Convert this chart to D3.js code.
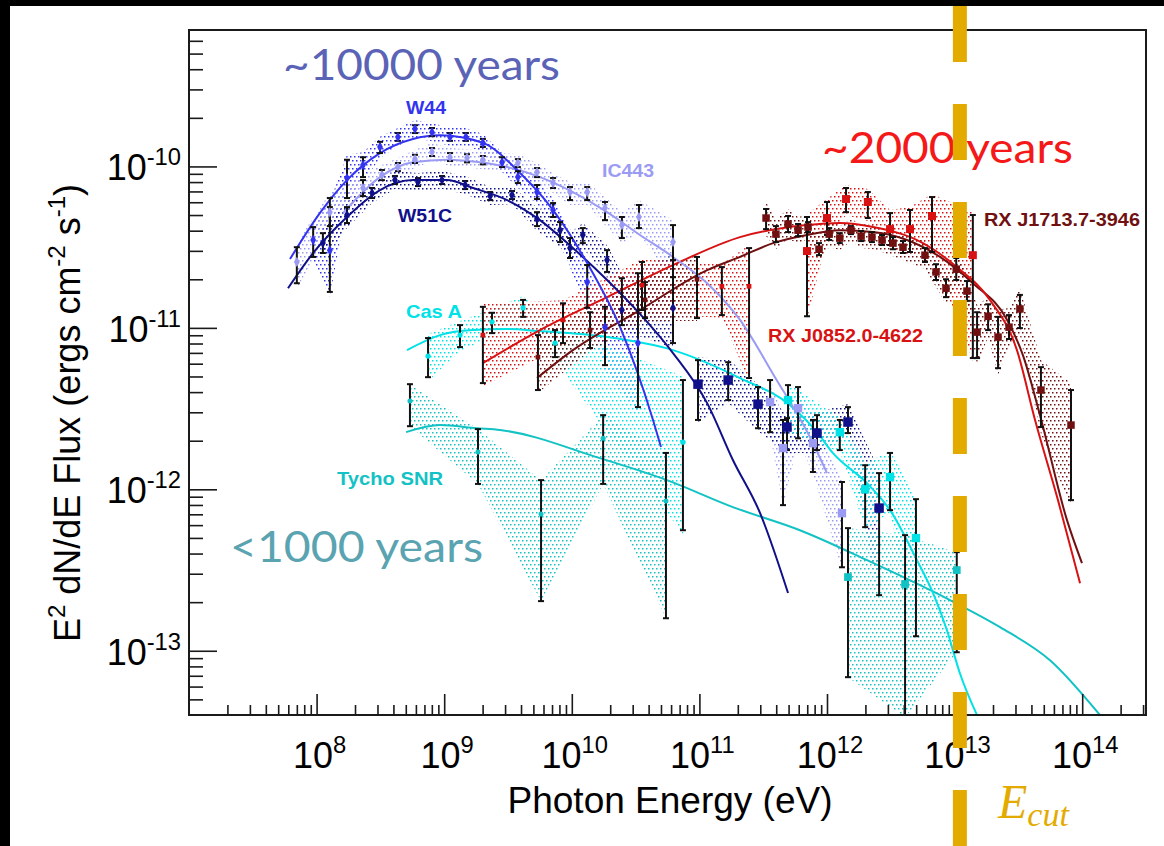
<!DOCTYPE html>
<html>
<head>
<meta charset="utf-8">
<script src="https://cdn.jsdelivr.net/npm/d3@7/dist/d3.min.js"></script>
<style>
  body { margin: 0; background: #fff; }
  svg { display: block; }
</style>
</head>
<body>
<svg id="chart" width="1164" height="846"></svg>
<script>
// ---------------------------------------------------------------
// Gamma-ray SEDs of supernova remnants: E^2 dN/dE vs photon energy
// Data rows are [energy (eV), flux, lower bound, upper bound]
// Curve rows are [energy (eV), flux] sampled along each model fit
// ---------------------------------------------------------------

const w44Fermi = [
  [9.4e7, 3.50e-11, 2.75e-11, 4.21e-11], [1.27e8, 3.03e-11, 1.67e-11, 5.60e-11],
  [1.73e8, 8.47e-11, 6.37e-11, 1.10e-10], [2.31e8, 1.02e-10, 8.59e-11, 1.14e-10],
  [3.14e8, 1.32e-10, 1.21e-10, 1.42e-10], [4.34e8, 1.52e-10, 1.44e-10, 1.61e-10],
  [5.90e8, 1.71e-10, 1.61e-10, 1.80e-10], [8.02e8, 1.63e-10, 1.54e-10, 1.73e-10],
  [1.11e9, 1.52e-10, 1.44e-10, 1.61e-10], [1.48e9, 1.52e-10, 1.44e-10, 1.61e-10],
  [2.01e9, 1.40e-10, 1.32e-10, 1.48e-10], [2.84e9, 1.06e-10, 9.91e-11, 1.14e-10],
  [3.78e9, 8.59e-11, 7.89e-11, 9.35e-11], [5.34e9, 6.94e-11, 6.28e-11, 7.67e-11],
  [7.13e9, 5.37e-11, 4.86e-11, 5.93e-11], [1.32e10, 1.92e-11, 1.33e-11, 2.45e-11],
  [1.82e10, 1.01e-11, 5.88e-12, 1.35e-11], [3.30e10, 8.05e-12, 3.23e-12, 2.18e-11]
];
const w44Curve = [
  [6.19e7, 2.67e-11], [1.06e8, 5.14e-11], [1.73e8, 8.23e-11], [3.14e8, 1.21e-10],
  [5.69e8, 1.48e-10], [9.27e8, 1.56e-10], [2.01e9, 1.40e-10], [3.93e9, 9.10e-11],
  [7.13e9, 5.37e-11], [1.32e10, 2.52e-11], [2.39e10, 1.01e-11], [4.33e10, 2.69e-12],
  [5.00e10, 1.83e-12]
];

const ic443Fermi = [
  [7.0e7, 2.56e-11, 1.89e-11, 3.16e-11], [1.27e8, 5.21e-11, 4.27e-11, 6.37e-11],
  [2.31e8, 7.35e-11, 6.55e-11, 8.23e-11], [3.25e8, 8.85e-11, 8.23e-11, 9.50e-11],
  [4.34e8, 9.91e-11, 9.35e-11, 1.05e-10], [5.90e8, 1.11e-10, 1.05e-10, 1.18e-10],
  [8.02e8, 1.23e-10, 1.16e-10, 1.30e-10], [1.11e9, 1.14e-10, 1.08e-10, 1.21e-10],
  [1.51e9, 1.13e-10, 1.06e-10, 1.19e-10], [2.01e9, 1.10e-10, 1.03e-10, 1.16e-10],
  [3.78e9, 1.05e-10, 9.91e-11, 1.11e-10], [5.34e9, 9.23e-11, 8.59e-11, 9.77e-11],
  [7.13e9, 7.89e-11, 7.35e-11, 8.47e-11], [9.68e9, 6.94e-11, 6.19e-11, 7.45e-11],
  [1.32e10, 6.94e-11, 6.19e-11, 7.45e-11], [1.82e10, 5.52e-11, 4.65e-11, 6.02e-11],
  [2.47e10, 4.33e-11, 3.60e-11, 4.86e-11], [3.36e10, 4.86e-11, 4.15e-11, 5.77e-11],
  [6.21e10, 3.40e-11, 2.06e-11, 4.33e-11]
];
const ic443TeV = [
  [3.58e11, 3.47e-12, 2.26e-12, 4.75e-12], [4.52e11, 1.80e-12, 7.98e-13, 2.69e-12],
  [5.93e11, 3.18e-12, 2.07e-12, 4.30e-12], [7.76e11, 1.93e-12, 1.28e-12, 2.69e-12],
  [1.31e12, 7.12e-13, 3.29e-13, 1.11e-12]
];
const ic443Curve = [
  [1.61e8, 5.14e-11], [3.14e8, 8.59e-11], [5.69e8, 1.06e-10], [1.05e9, 1.10e-10],
  [1.91e9, 1.06e-10], [3.11e9, 9.91e-11], [5.63e9, 8.59e-11], [1.02e10, 6.94e-11],
  [1.89e10, 5.21e-11], [3.42e10, 3.76e-11], [6.21e10, 2.75e-11], [1.15e11, 1.89e-11],
  [2.08e11, 1.12e-11], [3.91e11, 4.95e-12], [7.36e11, 2.10e-12], [1.00e12, 1.26e-12]
];

const w51cFermi = [
  [1.12e8, 3.35e-11, 2.91e-11, 3.86e-11], [1.73e8, 5.00e-11, 4.46e-11, 5.60e-11],
  [2.72e8, 6.84e-11, 6.37e-11, 7.35e-11], [4.11e8, 8.23e-11, 7.78e-11, 8.72e-11],
  [6.23e8, 8.00e-11, 7.56e-11, 8.47e-11], [9.61e8, 8.23e-11, 7.78e-11, 8.72e-11],
  [1.46e9, 7.67e-11, 7.24e-11, 8.12e-11], [2.29e9, 6.55e-11, 6.19e-11, 6.94e-11],
  [3.40e9, 6.65e-11, 6.28e-11, 7.04e-11], [5.34e9, 4.72e-11, 4.27e-11, 5.21e-11],
  [8.09e9, 4.03e-11, 3.40e-11, 4.52e-11], [9.68e9, 3.12e-11, 2.71e-11, 3.60e-11],
  [1.22e10, 3.76e-11, 3.35e-11, 4.15e-11], [1.89e10, 2.63e-11, 2.22e-11, 3.03e-11],
  [2.47e10, 1.29e-11, 1.04e-11, 2.03e-11], [6.21e10, 1.33e-11, 8.05e-12, 2.63e-11]
];
const w51cTeV = [
  [9.75e10, 4.48e-12, 2.69e-12, 6.31e-12], [1.68e11, 4.75e-12, 3.57e-12, 6.13e-12],
  [2.88e11, 3.37e-12, 2.39e-12, 4.30e-12], [4.86e11, 2.43e-12, 1.75e-12, 2.76e-12],
  [8.35e11, 2.23e-12, 1.75e-12, 2.88e-12], [1.46e12, 2.61e-12, 2.23e-12, 3.23e-12],
  [2.56e12, 7.65e-13, 2.21e-13, 1.26e-12]
];
const w51cCurve = [
  [5.97e7, 1.76e-11], [9.4e7, 2.91e-11], [1.73e8, 4.86e-11], [3.14e8, 7.14e-11],
  [5.69e8, 8.23e-11], [1.05e9, 8.23e-11], [1.68e9, 7.35e-11], [3.11e9, 6.19e-11],
  [5.63e9, 4.65e-11], [1.02e10, 3.12e-11], [1.89e10, 1.98e-11], [3.42e10, 1.22e-11],
  [6.21e10, 6.98e-12], [1.15e11, 3.42e-12], [1.83e11, 1.52e-12], [2.99e11, 7.12e-13],
  [4.95e11, 2.28e-13]
];

const casAFermi = [
  [7.47e8, 6.69e-12, 4.95e-12, 8.65e-12], [1.33e9, 9.02e-12, 7.60e-12, 1.04e-11],
  [2.37e9, 1.09e-11, 9.28e-12, 1.24e-11], [4.15e9, 1.33e-11, 1.17e-11, 1.49e-11],
  [7.39e9, 8.05e-12, 6.59e-12, 9.69e-12], [7.43e10, 1.96e-12, 5.58e-13, 4.75e-12]
];
const casATeV = [
  [4.95e11, 3.57e-12, 2.33e-12, 4.42e-12], [1.26e12, 2.26e-12, 1.75e-12, 2.69e-12],
  [1.99e12, 1.00e-12, 5.83e-13, 1.41e-12], [3.12e12, 1.19e-12, 7.43e-13, 1.68e-12],
  [4.98e12, 4.99e-13, 1.23e-13, 8.69e-13]
];
const casACurve = [
  [5.11e8, 7.28e-12], [9.27e8, 9.02e-12], [1.68e9, 9.69e-12], [3.11e9, 9.83e-12],
  [5.63e9, 9.55e-12], [1.89e10, 8.77e-12], [6.21e10, 7.28e-12], [2.08e11, 4.89e-12],
  [5.13e11, 3.32e-12], [8.35e11, 2.26e-12], [1.11e12, 1.68e-12], [2.06e12, 1.09e-12],
  [3.12e12, 7.43e-13], [5.07e12, 3.64e-13], [6.77e12, 2.28e-13], [8.71e12, 1.34e-13],
  [1.10e13, 7.26e-14], [1.50e13, 3.99e-14]
];

const tychoFermi = [
  [5.39e8, 3.52e-12, 2.46e-12, 4.48e-12], [1.84e9, 1.70e-12, 1.08e-12, 2.36e-12],
  [5.74e9, 7.02e-13, 2.03e-13, 1.14e-12], [1.76e10, 2.07e-12, 1.08e-12, 2.88e-12],
  [5.47e10, 8.45e-13, 1.59e-13, 1.68e-12]
];
const tychoTeV = [
  [1.46e12, 2.86e-13, 6.86e-14, 5.75e-13], [4.09e12, 2.59e-13, 3.87e-14, 5.20e-13],
  [1.04e13, 3.16e-13, 9.79e-14, 4.08e-13]
];
const tychoCurve = [
  [5.02e8, 2.26e-12], [9.27e8, 2.50e-12], [1.81e9, 2.39e-12], [2.74e9, 2.33e-12],
  [1.66e10, 1.56e-12], [5.57e10, 1.14e-12], [1.83e11, 7.76e-13], [6.14e11, 5.58e-13],
  [2.06e12, 3.64e-13], [9.20e12, 2.06e-13], [2.27e13, 1.40e-13], [5.59e13, 8.74e-14],
  [1.38e14, 3.99e-14]
];

const j0852Fermi = [
  [2.01e9, 9.02e-12, 4.55e-12, 1.35e-11], [8.53e9, 1.12e-11, 8.05e-12, 1.42e-11],
  [3.55e10, 1.84e-11, 1.29e-11, 2.56e-11], [1.50e11, 1.81e-11, 1.20e-11, 2.38e-11],
  [2.45e11, 1.81e-11, 4.89e-12, 3.12e-11]
];
const j0852HESS = [
  [6.97e11, 2.99e-11, 1.18e-11, 4.86e-11], [1.00e12, 4.79e-11, 3.76e-11, 6.02e-11],
  [1.41e12, 6.28e-11, 5.21e-11, 7.35e-11], [2.09e12, 6.02e-11, 4.79e-11, 6.94e-11],
  [3.12e12, 4.09e-11, 3.26e-11, 5.14e-11], [4.47e12, 4.09e-11, 2.95e-11, 5.37e-11],
  [6.65e12, 4.93e-11, 2.95e-11, 6.46e-11], [1.39e13, 2.82e-11, 6.50e-12, 5.00e-11]
];
const j0852Curve = [
  [2.01e9, 6.05e-12], [5.63e9, 9.69e-12], [1.89e10, 1.55e-11], [6.21e10, 2.45e-11],
  [2.08e11, 3.65e-11], [6.97e11, 4.33e-11], [1.26e12, 4.46e-11], [2.29e12, 4.21e-11],
  [5.65e12, 3.35e-11], [1.04e13, 2.38e-11], [1.89e13, 1.49e-11], [3.08e13, 7.28e-12],
  [4.27e13, 2.69e-12], [6.46e13, 8.57e-13], [9.62e13, 2.62e-13]
];

const j1713Fermi = [
  [5.43e9, 6.59e-12, 4.12e-12, 9.02e-12], [1.39e10, 9.69e-12, 7.50e-12, 1.25e-11],
  [3.75e10, 1.49e-11, 1.15e-11, 1.92e-11], [9.58e10, 2.00e-11, 1.15e-11, 2.75e-11]
];
const j1713HESS = [
  [3.33e11, 4.79e-11, 4.09e-11, 5.45e-11], [3.98e11, 3.81e-11, 3.40e-11, 4.27e-11],
  [4.95e11, 4.40e-11, 3.92e-11, 4.93e-11], [5.93e11, 4.03e-11, 3.70e-11, 4.40e-11],
  [7.10e11, 4.21e-11, 3.92e-11, 4.52e-11], [8.66e11, 3.07e-11, 2.82e-11, 3.35e-11],
  [1.04e12, 3.81e-11, 3.50e-11, 4.15e-11], [1.26e12, 3.60e-11, 3.35e-11, 3.86e-11],
  [1.54e12, 4.03e-11, 3.81e-11, 4.27e-11], [1.85e12, 3.70e-11, 3.45e-11, 3.98e-11],
  [2.25e12, 3.65e-11, 3.40e-11, 3.92e-11], [2.70e12, 3.50e-11, 3.26e-11, 3.76e-11],
  [3.29e12, 3.35e-11, 3.07e-11, 3.65e-11], [3.94e12, 3.16e-11, 2.91e-11, 3.45e-11],
  [5.86e12, 2.82e-11, 2.56e-11, 3.12e-11], [7.15e12, 2.22e-11, 1.98e-11, 2.48e-11],
  [8.56e12, 1.76e-11, 1.55e-11, 2.00e-11], [1.03e13, 2.31e-11, 1.98e-11, 2.71e-11],
  [1.25e13, 1.69e-11, 1.47e-11, 1.95e-11], [1.50e13, 9.41e-12, 6.50e-12, 1.25e-11],
  [1.83e13, 1.18e-11, 9.69e-12, 1.40e-11], [2.19e13, 8.77e-12, 5.63e-12, 1.17e-11],
  [2.67e13, 1.01e-11, 8.53e-12, 1.20e-11], [3.25e13, 1.31e-11, 9.97e-12, 1.60e-11],
  [4.75e13, 4.12e-12, 2.43e-12, 5.71e-12], [8.17e13, 2.50e-12, 8.57e-13, 4.12e-12]
];
const j1713Curve = [
  [5.34e9, 4.89e-12], [1.02e10, 7.28e-12], [3.42e10, 1.29e-11], [1.15e11, 2.28e-11],
  [2.08e11, 2.75e-11], [3.78e11, 3.35e-11], [6.97e11, 3.76e-11], [1.26e12, 4.03e-11],
  [2.29e12, 3.92e-11], [4.24e12, 3.50e-11], [7.68e12, 2.75e-11], [1.39e13, 1.89e-11],
  [2.58e13, 1.12e-11], [3.43e13, 6.78e-12], [4.67e13, 2.88e-12], [7.60e13, 6.44e-13],
  [9.96e13, 3.49e-13]
];

// Axis ticks
const xMajorTicks = [1e8, 1e9, 1e10, 1e11, 1e12, 1e13, 1e14];
const xTickExponents = ["8", "9", "10", "11", "12", "13", "14"];
const yMajorTicks = [1e-13, 1e-12, 1e-11, 1e-10];
const yTickExponents = ["-13", "-12", "-11", "-10"];

// Source names and age annotations
const sourceNames = ["W44", "IC443", "W51C", "Cas A", "Tycho SNR", "RX J0852.0-4622", "RX J1713.7-3946"];
const ageLabels = ["~10000 years", "~2000 years", "<1000 years"];
const cutoffEnergy = [1.1e13];

// ---------------------------------------------------------------
const svg = d3.select("#chart");
const W = 1164, H = 846;
const plot = { left: 189, right: 1146, top: 30, bottom: 715 };

svg.append("rect").attr("width", W).attr("height", H).attr("fill", "#fff");
svg.append("rect").attr("x", 0).attr("y", 0).attr("width", W).attr("height", 6).attr("fill", "#000");
svg.append("rect").attr("x", 0).attr("y", 0).attr("width", 10).attr("height", H).attr("fill", "#000");

const x = d3.scaleLog().domain([1e7, Math.pow(10, 14.5)]).range([plot.left, plot.right]);
const y = d3.scaleLog().domain([4e-14, 7e-10]).range([plot.bottom, plot.top]);

const colors = {
  w44: "#3434f0", ic443: "#9b9bf4", w51c: "#10108a", casA: "#00e2e6",
  tycho: "#12c2c4", j0852: "#d81212", j1713: "#701010"
};

const defs = svg.append("defs");
defs.append("clipPath").attr("id", "plotClip")
  .append("rect").attr("x", plot.left).attr("y", plot.top)
  .attr("width", plot.right - plot.left).attr("height", plot.bottom - plot.top);

// sparse dotted fill patterns used for the uncertainty bands
Object.entries(colors).forEach(([key, c]) => {
  const p = defs.append("pattern").attr("id", "dots-" + key)
    .attr("width", 4).attr("height", 8).attr("patternUnits", "userSpaceOnUse");
  p.append("rect").attr("x", 0).attr("y", 0).attr("width", 1.5).attr("height", 1.5).attr("fill", c);
  p.append("rect").attr("x", 2).attr("y", 4).attr("width", 1.5).attr("height", 1.5).attr("fill", c);
});

const groups = [
  { data: w44Fermi,   key: "w44",   pad: 5, marker: d3.symbolDiamond, size: 30 },
  { data: ic443Fermi, key: "ic443", pad: 5, marker: d3.symbolDiamond, size: 30 },
  { data: ic443TeV,   key: "ic443", pad: 2, marker: d3.symbolSquare,  size: 70 },
  { data: w51cFermi,  key: "w51c",  pad: 5, marker: d3.symbolDiamond, size: 30 },
  { data: w51cTeV,    key: "w51c",  pad: 3, marker: d3.symbolSquare,  size: 90 },
  { data: casAFermi,  key: "casA",  pad: 4, marker: d3.symbolCircle,  size: 22 },
  { data: casATeV,    key: "casA",  pad: 2, marker: d3.symbolSquare,  size: 70 },
  { data: tychoFermi, key: "tycho", pad: 0, marker: d3.symbolCircle,  size: 20 },
  { data: tychoTeV,   key: "tycho", pad: 0, marker: d3.symbolSquare,  size: 60 },
  { data: j0852Fermi, key: "j0852", pad: 3, marker: d3.symbolSquare,  size: 22 },
  { data: j0852HESS,  key: "j0852", pad: 3, marker: d3.symbolSquare,  size: 64 },
  { data: j1713Fermi, key: "j1713", pad: 3, marker: d3.symbolSquare,  size: 22 },
  { data: j1713HESS,  key: "j1713", pad: 7, marker: d3.symbolSquare,  size: 56 }
];

const curves = [
  { data: tychoCurve, key: "tycho" }, { data: casACurve, key: "casA" },
  { data: j1713Curve, key: "j1713" }, { data: j0852Curve, key: "j0852" },
  { data: ic443Curve, key: "ic443" }, { data: w51cCurve, key: "w51c" },
  { data: w44Curve, key: "w44" }
];

const clipped = svg.append("g").attr("clip-path", "url(#plotClip)");

// uncertainty bands
const bandLayer = clipped.append("g");
groups.forEach(g => {
  const area = d3.area()
    .x(d => x(d[0]))
    .y0(d => y(d[2]) + g.pad)
    .y1(d => y(d[3]) - g.pad);
  bandLayer.append("path").datum(g.data)
    .attr("d", area)
    .attr("fill", `url(#dots-${g.key})`);
});

// model curves
const lineGen = d3.line().x(d => x(d[0])).y(d => y(d[1])).curve(d3.curveMonotoneX);
const curveLayer = clipped.append("g");
curves.forEach(c => {
  curveLayer.append("path").datum(c.data)
    .attr("d", lineGen)
    .attr("fill", "none")
    .attr("stroke", colors[c.key])
    .attr("stroke-width", 2);
});

// error bars
const barLayer = clipped.append("g").attr("stroke", "#111").attr("stroke-width", 2);
groups.forEach(g => {
  g.data.forEach(d => {
    const cx = x(d[0]), y0 = y(d[2]), y1 = y(d[3]);
    barLayer.append("line").attr("x1", cx).attr("x2", cx).attr("y1", y0).attr("y2", y1);
    barLayer.append("line").attr("x1", cx - 3).attr("x2", cx + 3).attr("y1", y0).attr("y2", y0);
    barLayer.append("line").attr("x1", cx - 3).attr("x2", cx + 3).attr("y1", y1).attr("y2", y1);
  });
});

// markers
const markLayer = clipped.append("g");
groups.forEach(g => {
  const sym = d3.symbol().type(g.marker).size(g.size);
  markLayer.selectAll(null).data(g.data).enter().append("path")
    .attr("d", sym)
    .attr("transform", d => `translate(${x(d[0])},${y(d[1])})`)
    .attr("fill", colors[g.key]);
});

// ---------------------------------------------------------------
// Axes: ticks on the left and bottom, frame around the plot
const axisFont = "'Liberation Sans', Arial, Helvetica, sans-serif";

const xMinor = [];
for (let e = 7; e <= 14; e++) for (let m = 2; m <= 9; m++) {
  const v = m * Math.pow(10, e);
  if (v < x.domain()[1]) xMinor.push(v);
}
const yMinor = [];
for (let e = -14; e <= -10; e++) for (let m = 2; m <= 9; m++) {
  const v = m * Math.pow(10, e);
  if (v > y.domain()[0] && v < y.domain()[1]) yMinor.push(v);
}

const xAxisMajor = d3.axisBottom(x).tickValues(xMajorTicks).tickSize(-21).tickFormat("");
const xAxisMinor = d3.axisBottom(x).tickValues(xMinor).tickSize(-10).tickFormat("");
const yAxisMajor = d3.axisLeft(y).tickValues(yMajorTicks).tickSize(-28).tickFormat("");
const yAxisMinor = d3.axisLeft(y).tickValues(yMinor).tickSize(-14).tickFormat("");

[[xAxisMajor, `translate(0,${plot.bottom})`], [xAxisMinor, `translate(0,${plot.bottom})`],
 [yAxisMajor, `translate(${plot.left},0)`], [yAxisMinor, `translate(${plot.left},0)`]]
  .forEach(([ax, tr]) => {
    const g = svg.append("g").attr("transform", tr).call(ax);
    g.select(".domain").remove();
    g.selectAll(".tick line").attr("stroke", "#1a1a1a").attr("stroke-width", 1.6);
  });

svg.append("rect")
  .attr("x", plot.left).attr("y", plot.top)
  .attr("width", plot.right - plot.left).attr("height", plot.bottom - plot.top)
  .attr("fill", "none").attr("stroke", "#1a1a1a").attr("stroke-width", 2);

function powerLabel(text, base, exp, size) {
  text.append("tspan").text(base);
  text.append("tspan").attr("dy", -size * 0.42).attr("font-size", size * 0.66).text(exp);
}

xMajorTicks.forEach((v, i) => {
  const t = svg.append("text")
    .attr("x", x(v) + 3).attr("y", 768)
    .attr("text-anchor", "middle")
    .attr("font-family", axisFont).attr("font-size", 36).attr("fill", "#000");
  powerLabel(t, "10", xTickExponents[i], 36);
});

yMajorTicks.forEach((v, i) => {
  const t = svg.append("text")
    .attr("x", 181).attr("y", y(v) + 14)
    .attr("text-anchor", "end")
    .attr("font-family", axisFont).attr("font-size", 36).attr("fill", "#000");
  powerLabel(t, "10", yTickExponents[i], 36);
});

svg.append("text")
  .attr("x", 670).attr("y", 813)
  .attr("text-anchor", "middle")
  .attr("font-family", axisFont).attr("font-size", 37).attr("fill", "#000")
  .text("Photon Energy (eV)");

const yTitle = svg.append("text")
  .attr("transform", "translate(80,413) rotate(-90)")
  .attr("text-anchor", "middle")
  .attr("font-family", axisFont).attr("font-size", 36).attr("fill", "#000");
yTitle.append("tspan").text("E");
yTitle.append("tspan").attr("dy", -15).attr("font-size", 24).text("2");
yTitle.append("tspan").attr("dy", 15).text(" dN/dE Flux (ergs cm");
yTitle.append("tspan").attr("dy", -15).attr("font-size", 24).text("-2");
yTitle.append("tspan").attr("dy", 15).text(" s");
yTitle.append("tspan").attr("dy", -15).attr("font-size", 24).text("-1");
yTitle.append("tspan").attr("dy", 15).text(")");

// ---------------------------------------------------------------
// Source names
const nameStyle = [
  { key: "w44",   x: 406, y: 114, w: 40 },
  { key: "ic443", x: 602, y: 177, w: 52 },
  { key: "w51c",  x: 398, y: 222, w: 54 },
  { key: "casA",  x: 406, y: 318, w: 56 },
  { key: "tycho", x: 337, y: 485, w: 106 },
  { key: "j0852", x: 768, y: 342, w: 155 },
  { key: "j1713", x: 984, y: 226, w: 156 }
];
sourceNames.forEach((name, i) => {
  const s = nameStyle[i];
  svg.append("text")
    .attr("x", s.x).attr("y", s.y)
    .attr("font-family", axisFont).attr("font-weight", "bold").attr("font-size", 19)
    .attr("textLength", s.w).attr("lengthAdjust", "spacingAndGlyphs")
    .attr("fill", colors[s.key])
    .text(name);
});

// Age annotations
const ageStyle = [
  { x: 283, y: 80, w: 277, fill: "#5a63b6" },
  { x: 822, y: 163, w: 251, fill: "#f41818" },
  { x: 230, y: 562, w: 253, fill: "#5aa3b1" }
];
ageLabels.forEach((label, i) => {
  const s = ageStyle[i];
  svg.append("text")
    .attr("x", s.x).attr("y", s.y)
    .attr("font-family", "Lato, 'Open Sans', sans-serif").attr("font-size", 43)
    .attr("textLength", s.w).attr("lengthAdjust", "spacingAndGlyphs")
    .attr("fill", s.fill)
    .text(label);
});

// Cutoff energy marker
const gold = "#e3ab00";
svg.append("line")
  .attr("x1", x(cutoffEnergy[0])).attr("x2", x(cutoffEnergy[0]))
  .attr("y1", 6).attr("y2", H)
  .attr("stroke", gold).attr("stroke-width", 14)
  .attr("stroke-dasharray", "56 42");

const ecut = svg.append("text")
  .attr("x", 998).attr("y", 818)
  .attr("font-family", "'Liberation Serif', 'DejaVu Serif', serif")
  .attr("font-style", "italic").attr("font-size", 48).attr("fill", gold);
ecut.append("tspan").text("E");
ecut.append("tspan").attr("dy", 8).attr("font-size", 34).text("cut");
</script>
</body>
</html>
